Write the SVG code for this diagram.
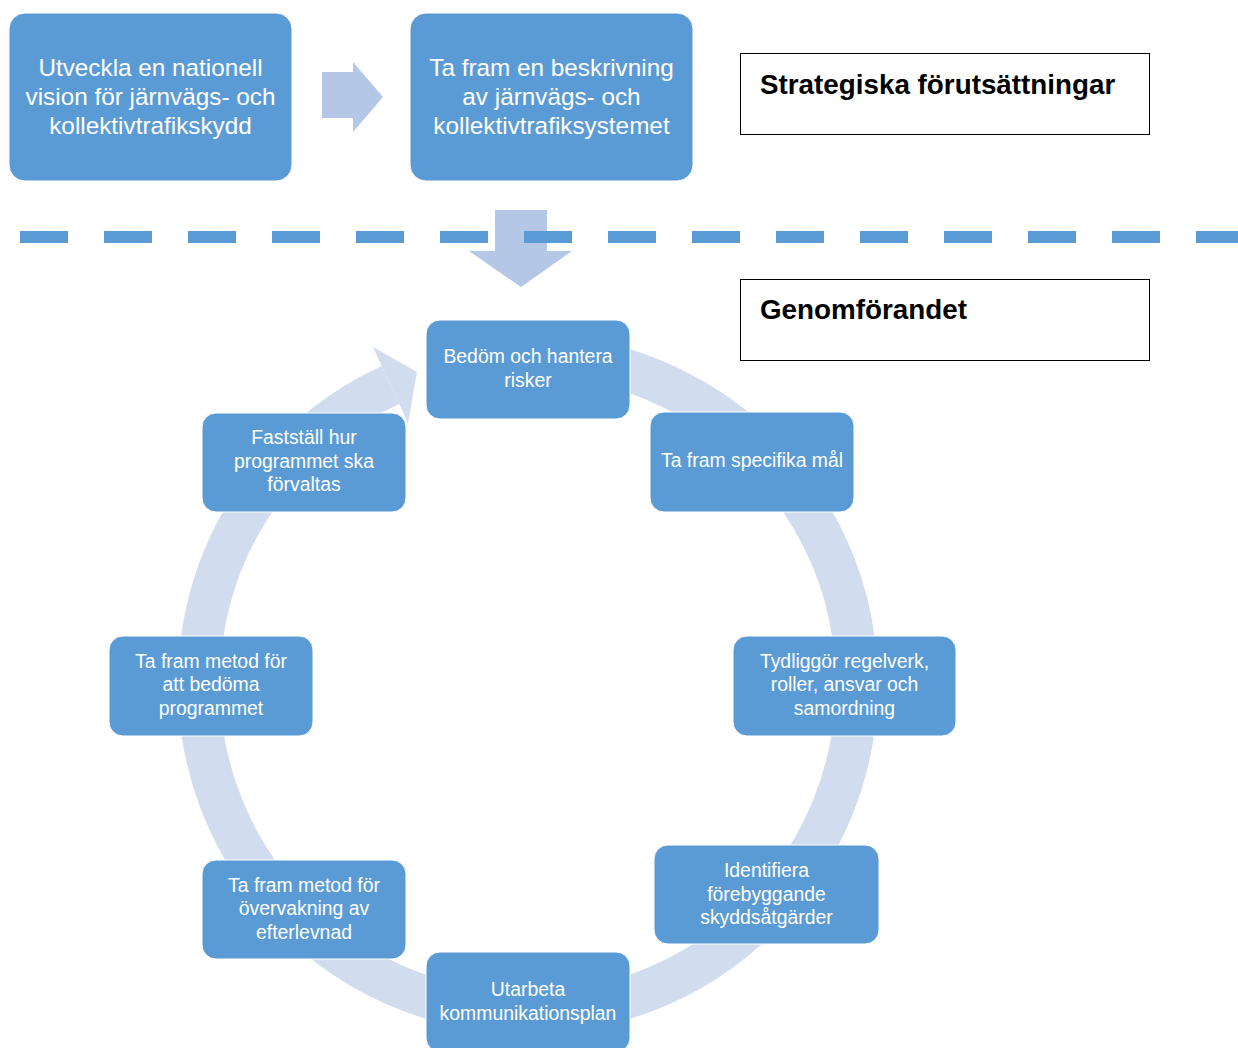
<svg xmlns="http://www.w3.org/2000/svg" width="1238" height="1048" viewBox="0 0 1238 1048">
<style>
.big{fill:#5B9BD5;stroke:#FFFFFF;stroke-width:1}
.node{fill:#5B9BD5;stroke:#FFFFFF;stroke-width:1}
.bt{font-family:"Liberation Sans",Arial,sans-serif;font-size:24.3px;fill:#FFFFFF;text-anchor:middle}
.nt{font-family:"Liberation Sans",Arial,sans-serif;font-size:19.4px;fill:#FFFFFF;text-anchor:middle}
.lbl{fill:#FFFFFF;stroke:#000000;stroke-width:1}
.lt{font-family:"Liberation Sans",Arial,sans-serif;font-size:27.8px;font-weight:bold;fill:#000000}
.arr{fill:#B4C7E7}
.ring{fill:none;stroke:#D1DCEE;stroke-width:42}
.ringhead{fill:#D1DCEE}
</style>
<rect width="1238" height="1048" fill="#FFFFFF"/>

<g id="connectors">
  <polygon class="arr" points="322,72 353,72 353,62 383,97 353,132 353,118 322,118"/>
  <polygon class="arr" points="495,210 547,210 547,251 572,251 521,287 469,251 495,251"/>
  <path class="ring" d="M 528 355 A 329 329 0 1 1 390.5 385"/>
  <polygon class="ringhead" points="373,347 417,372 408,423"/>
</g>

<g id="separator">
  <line x1="20" y1="237" x2="1238" y2="237" stroke="#5B9BD5" stroke-width="12" stroke-dasharray="48 36"/>
</g>

<g id="node-vision">
  <rect class="big" x="9" y="13" width="283" height="168" rx="16"/>
  <text class="bt" x="150.5" y="76">Utveckla en nationell</text>
  <text class="bt" x="150.5" y="105">vision för järnvägs- och</text>
  <text class="bt" x="150.5" y="134">kollektivtrafikskydd</text>
</g>

<g id="node-beskrivning">
  <rect class="big" x="410" y="13" width="283" height="168" rx="16"/>
  <text class="bt" x="551.5" y="76">Ta fram en beskrivning</text>
  <text class="bt" x="551.5" y="105">av järnvägs- och</text>
  <text class="bt" x="551.5" y="134">kollektivtrafiksystemet</text>
</g>

<g id="label-strategiska">
  <rect class="lbl" x="740.5" y="53.5" width="409" height="81"/>
  <text class="lt" x="760" y="94">Strategiska förutsättningar</text>
</g>

<g id="label-genomforandet">
  <rect class="lbl" x="740.5" y="279.5" width="409" height="81"/>
  <text class="lt" x="760" y="319">Genomförandet</text>
</g>

<g id="node-bedom">
  <rect class="node" x="426" y="320" width="204" height="99" rx="14"/>
  <text class="nt" x="528" y="363">Bedöm och hantera</text>
  <text class="nt" x="528" y="387">risker</text>
</g>

<g id="node-mal">
  <rect class="node" x="650" y="412" width="204" height="100" rx="14"/>
  <text class="nt" x="752" y="467">Ta fram specifika mål</text>
</g>

<g id="node-tydliggor">
  <rect class="node" x="733" y="636" width="223" height="100" rx="14"/>
  <text class="nt" x="844.5" y="668">Tydliggör regelverk,</text>
  <text class="nt" x="844.5" y="691">roller, ansvar och</text>
  <text class="nt" x="844.5" y="715">samordning</text>
</g>

<g id="node-identifiera">
  <rect class="node" x="654" y="845" width="225" height="99" rx="14"/>
  <text class="nt" x="766.5" y="877">Identifiera</text>
  <text class="nt" x="766.5" y="901">förebyggande</text>
  <text class="nt" x="766.5" y="924">skyddsåtgärder</text>
</g>

<g id="node-utarbeta">
  <rect class="node" x="426" y="952" width="204" height="100" rx="14"/>
  <text class="nt" x="528" y="996">Utarbeta</text>
  <text class="nt" x="528" y="1020">kommunikationsplan</text>
</g>

<g id="node-overvakning">
  <rect class="node" x="202" y="860" width="204" height="99" rx="14"/>
  <text class="nt" x="304" y="892">Ta fram metod för</text>
  <text class="nt" x="304" y="915">övervakning av</text>
  <text class="nt" x="304" y="939">efterlevnad</text>
</g>

<g id="node-bedoma">
  <rect class="node" x="109" y="636" width="204" height="100" rx="14"/>
  <text class="nt" x="211" y="668">Ta fram metod för</text>
  <text class="nt" x="211" y="691">att bedöma</text>
  <text class="nt" x="211" y="715">programmet</text>
</g>

<g id="node-faststall">
  <rect class="node" x="202" y="413" width="204" height="99" rx="14"/>
  <text class="nt" x="304" y="444">Fastställ hur</text>
  <text class="nt" x="304" y="468">programmet ska</text>
  <text class="nt" x="304" y="491">förvaltas</text>
</g>
</svg>
